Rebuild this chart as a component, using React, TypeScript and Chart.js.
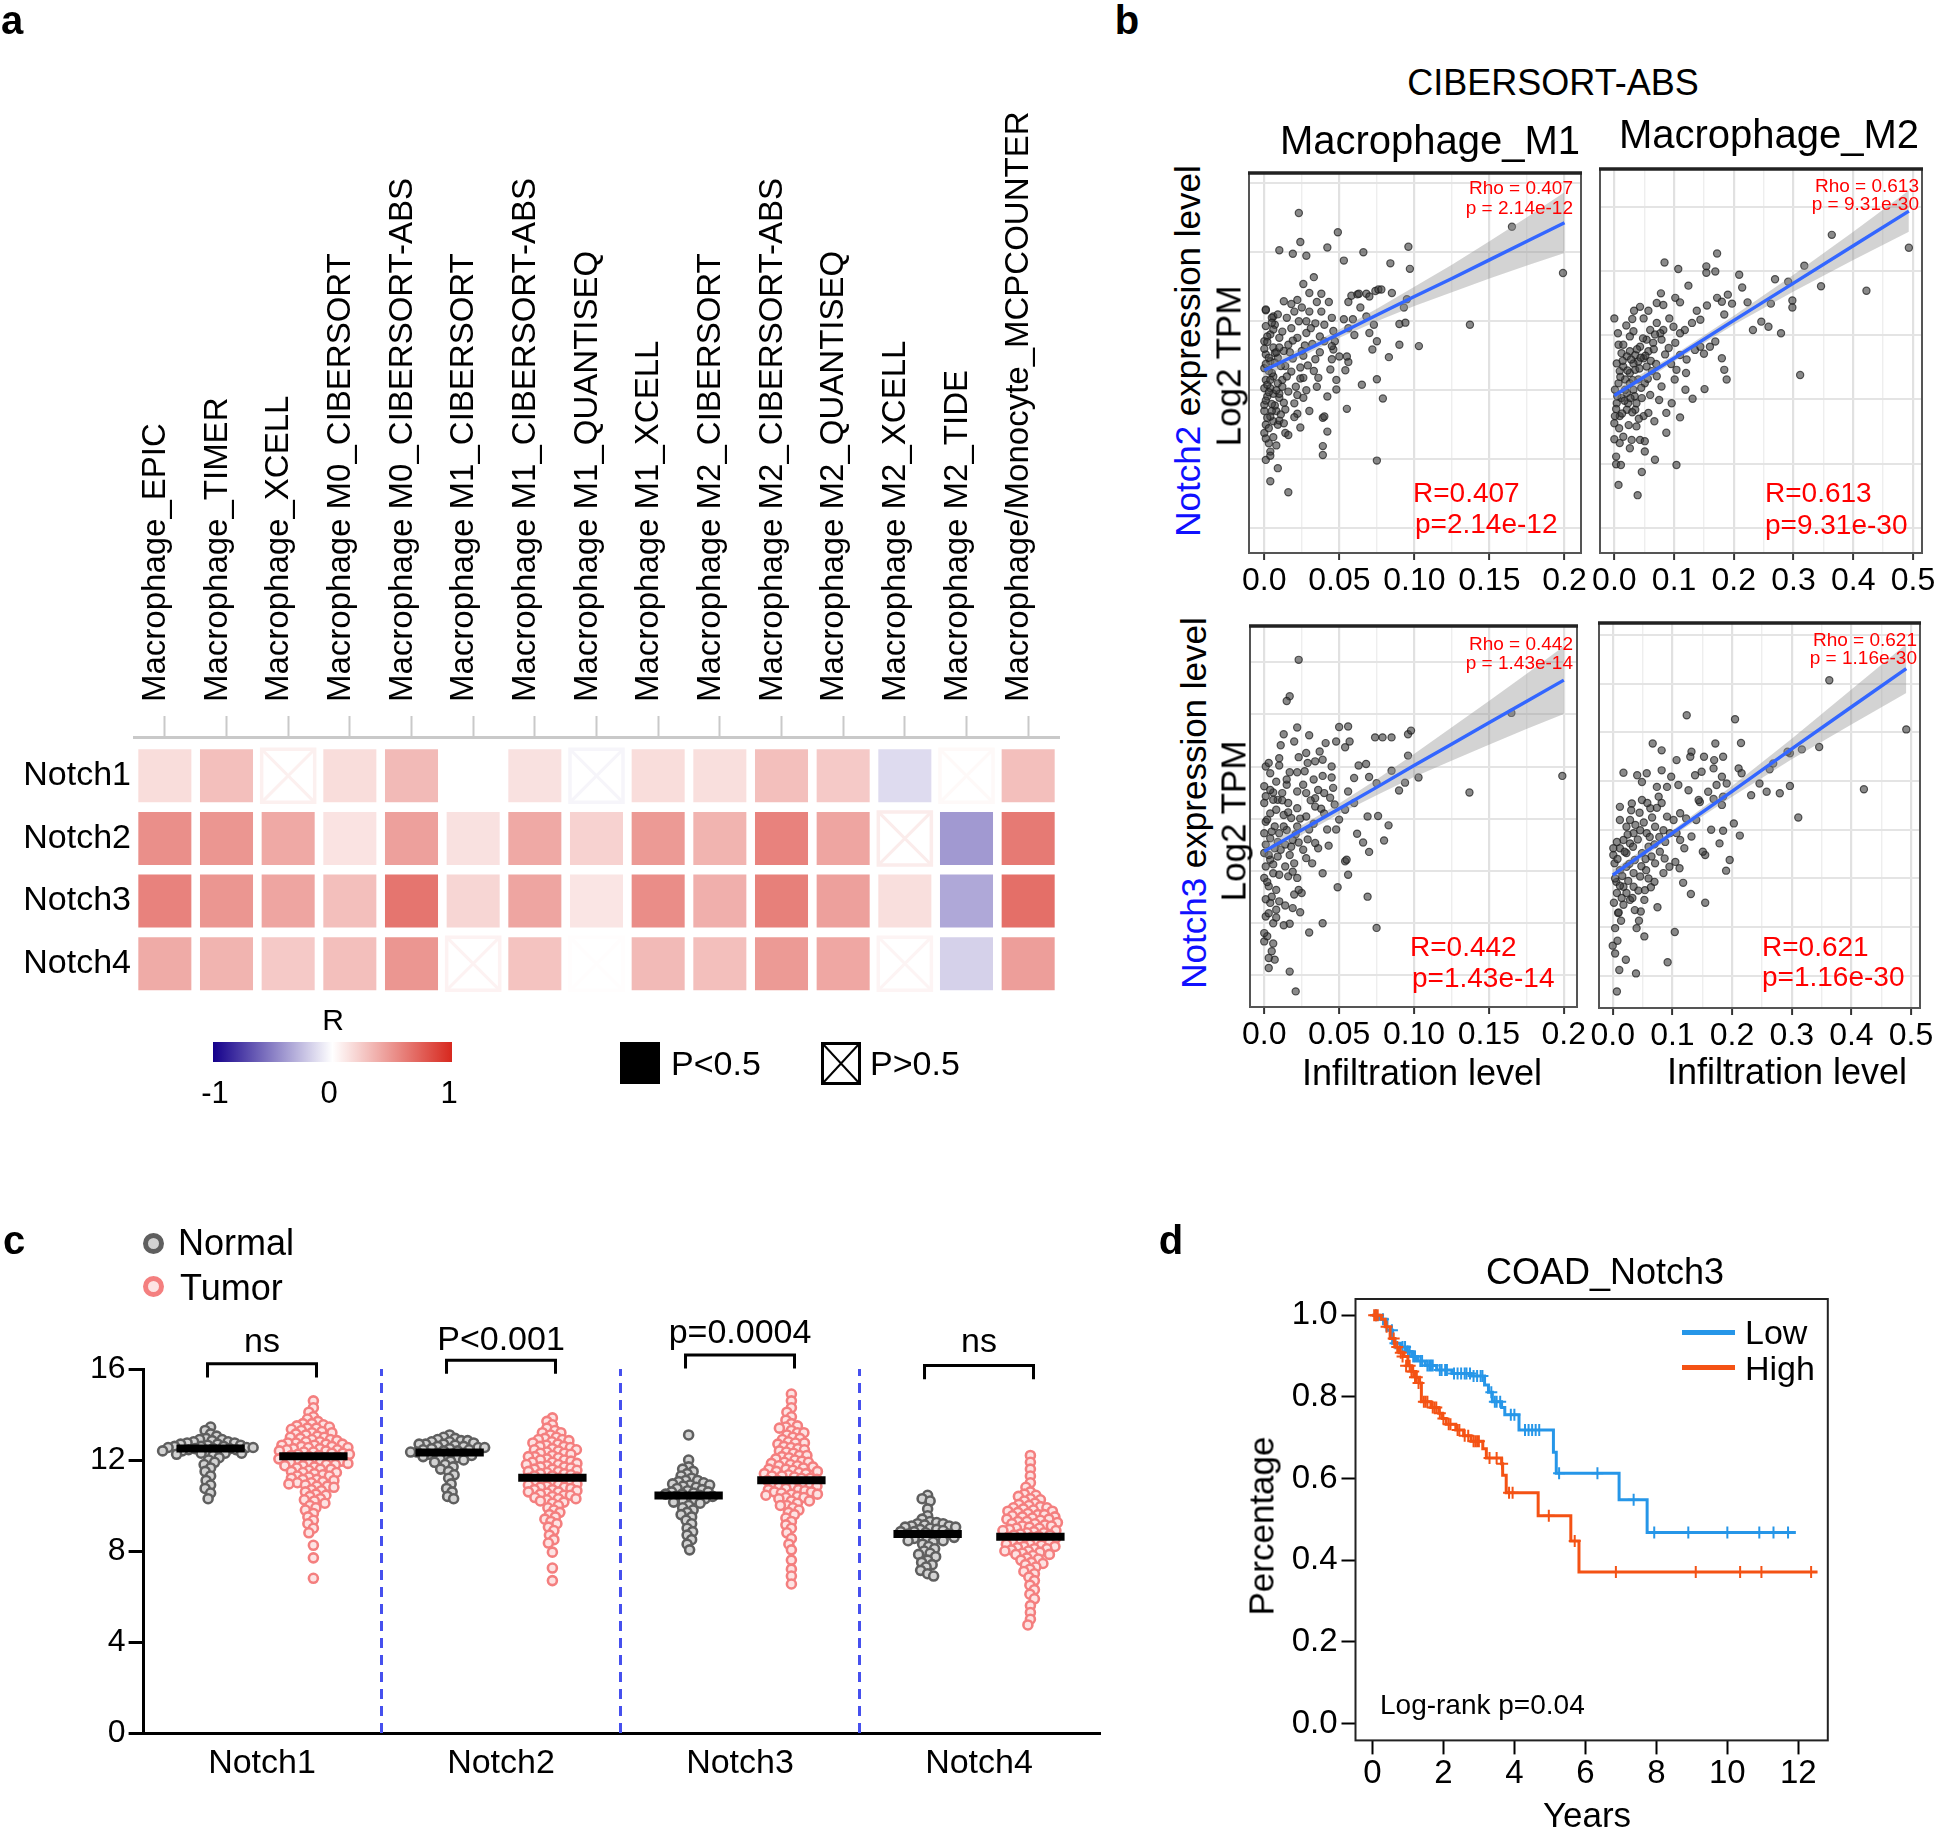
import React, { useEffect, useRef } from "react";
import { Chart, registerables } from "chart.js";

Chart.register(...registerables);

const FONT = '"Liberation Sans", Arial, Helvetica, sans-serif';

// ================= Panel a : correlation heatmap =================
const HEAT_COLS = [
  "Macrophage_EPIC", "Macrophage_TIMER", "Macrophage_XCELL", "Macrophage M0_CIBERSORT",
  "Macrophage M0_CIBERSORT-ABS", "Macrophage M1_CIBERSORT", "Macrophage M1_CIBERSORT-ABS",
  "Macrophage M1_QUANTISEQ", "Macrophage M1_XCELL", "Macrophage M2_CIBERSORT",
  "Macrophage M2_CIBERSORT-ABS", "Macrophage M2_QUANTISEQ", "Macrophage M2_XCELL",
  "Macrophage M2_TIDE", "Macrophage/Monocyte_MCPCOUNTER",
];
const HEAT_ROWS = ["Notch1", "Notch2", "Notch3", "Notch4"];
const HEAT_R = [
  [0.16, 0.30, 0.07, 0.16, 0.32, 0.00, 0.14, -0.04, 0.16, 0.15, 0.30, 0.25, -0.14, 0.03, 0.30],
  [0.52, 0.49, 0.40, 0.13, 0.44, 0.14, 0.40, 0.21, 0.47, 0.35, 0.58, 0.42, 0.09, -0.40, 0.62],
  [0.58, 0.49, 0.42, 0.30, 0.64, 0.19, 0.42, 0.12, 0.53, 0.37, 0.59, 0.44, 0.15, -0.34, 0.67],
  [0.39, 0.35, 0.25, 0.30, 0.49, 0.06, 0.28, 0.01, 0.32, 0.30, 0.47, 0.41, 0.05, -0.18, 0.45],
];
// 1 = P<0.5 (filled), 0 = P>0.5 (crossed box)
const HEAT_SIG = [
  [1, 1, 0, 1, 1, 1, 1, 0, 1, 1, 1, 1, 1, 0, 1],
  [1, 1, 1, 1, 1, 1, 1, 1, 1, 1, 1, 1, 0, 1, 1],
  [1, 1, 1, 1, 1, 1, 1, 1, 1, 1, 1, 1, 1, 1, 1],
  [1, 1, 1, 1, 1, 0, 1, 0, 1, 1, 1, 1, 0, 1, 1],
];
const COLOR_POS = [215, 40, 30];
const COLOR_NEG = [20, 0, 139];

// ================= Panel b : scatter plots =================
const M1_TICKS = [0, 0.025, 0.05, 0.075, 0.1, 0.125, 0.15, 0.175, 0.2];
const M1_LABELS = ["0.0", "", "0.05", "", "0.10", "", "0.15", "", "0.2"];
const M2_TICKS = [0, 0.05, 0.1, 0.15, 0.2, 0.25, 0.3, 0.35, 0.4, 0.45, 0.5];
const M2_LABELS = ["0.0", "", "0.1", "", "0.2", "", "0.3", "", "0.4", "", "0.5"];

const N2_M1_PTS = [
  [0.023,5.57],[0.049,5.29],[0.024,5.15],[0.010,5.03],[0.019,4.98],[0.028,4.95],[0.042,5.07],[0.053,4.88],[0.066,5.00],[0.096,5.08],
  [0.084,4.84],[0.097,4.76],[0.165,5.37],[0.199,4.70],[0.137,3.95],[0.103,3.64],[0.090,3.66],[0.083,3.48],[0.075,3.16],[0.065,3.08],
  [0.079,2.88],[0.075,1.98],[0.055,2.73],[0.042,2.91],[0.048,3.01],[0.048,3.15],[0.054,3.29],[0.056,3.41],[0.050,3.49],[0.046,3.59],
  [0.039,2.60],[0.040,2.62],[0.042,2.40],[0.039,2.19],[0.039,2.06],[0.024,2.46],[0.016,1.52],[0.004,1.68],[0.009,1.87],[0.001,1.99],
  [0.004,2.11],[0.000,2.38],[0.006,2.32],[0.014,2.38],[0.016,2.35],[0.003,2.23],[0.006,2.55],[0.008,2.70],[0.000,2.70],[0.000,2.79],
  [0.002,2.91],[0.000,3.03],[0.004,3.03],[0.001,3.15],[0.006,3.20],[0.000,3.32],[0.004,3.42],[0.001,3.52],[0.007,3.54],[0.000,3.71],
  [0.004,3.81],[0.001,3.93],[0.006,4.07],[0.001,4.16],[0.007,3.95],[0.010,3.76],[0.013,3.57],[0.009,3.47],[0.014,3.35],[0.012,3.15],
  [0.016,2.98],[0.010,2.89],[0.014,2.72],[0.020,2.81],[0.022,2.93],[0.024,3.17],[0.018,3.27],[0.019,3.46],[0.016,3.66],[0.022,3.76],
  [0.018,3.90],[0.015,4.05],[0.023,4.00],[0.020,4.14],[0.013,4.29],[0.022,4.31],[0.026,4.54],[0.030,4.41],[0.033,4.64],[0.038,4.40],
  [0.035,4.28],[0.043,4.28],[0.030,4.14],[0.038,4.14],[0.028,4.00],[0.034,3.97],[0.028,3.83],[0.037,3.78],[0.032,3.67],[0.025,3.57],
  [0.029,3.36],[0.033,3.28],[0.026,3.50],[0.037,3.55],[0.040,3.71],[0.045,4.05],[0.046,3.86],[0.026,2.89],[0.030,2.70],[0.035,3.05],
  [0.022,2.66],[0.020,2.61],[0.056,4.28],[0.058,4.37],[0.062,4.39],[0.063,4.40],[0.068,4.40],[0.070,4.36],[0.074,4.44],[0.076,4.46],
  [0.078,4.46],[0.085,4.41],[0.095,4.32],[0.093,4.20],[0.090,3.96],[0.094,3.98],[0.068,4.07],[0.059,4.03],[0.056,3.90],[0.073,3.95],
  [0.070,3.83],[0.075,3.71],[0.072,3.59],[0.053,4.03],[0.047,3.71],[0.045,3.45],[0.045,3.64],[0.055,3.49],[0.026,3.18],[0.028,3.00],
  [0.009,2.50],[0.010,2.56],[0.001,2.50],[0.005,2.70],[0.006,2.95],[0.001,4.17],[0.005,4.05],[0.001,2.85],[0.003,2.97],[0.002,3.08],
  [0.005,3.25],[0.001,3.38],[0.003,3.47],[0.006,3.62],[0.002,3.78],[0.004,2.62],[0.007,2.78],[0.009,3.10],[0.011,3.35],[0.008,3.55],
  [0.012,3.85],[0.003,2.45],[0.006,3.88],[0.010,2.95],[0.013,2.82],[0.000,3.60],[0.004,3.15],
  [0.002,2.60],[0.005,2.80],[0.008,3.00],[0.003,3.28],[0.007,3.40],[0.010,3.62],[0.002,3.70],[0.005,3.98],[0.009,4.10],[0.012,3.05],
  [0.015,3.20],[0.011,2.65],[0.017,3.55],[0.019,3.72],[0.021,3.05],[0.024,3.33],[0.027,3.65],[0.031,3.90],[0.034,3.45],[0.036,3.18],
  [0.001,2.30],[0.004,2.05],[0.008,2.20],[0.013,2.52],[0.018,4.25],[0.025,4.20],[0.040,3.95],[0.044,3.30],[0.060,3.80],[0.064,4.20],
];
const N2_M1_FIT_X = [0, 0.025, 0.05, 0.075, 0.1, 0.125, 0.15, 0.175, 0.2];
const N2_M1_FIT = [3.29, 3.55, 3.82, 4.09, 4.36, 4.62, 4.89, 5.16, 5.43];
const N2_M1_LO = [3.19, 3.49, 3.76, 4.00, 4.22, 4.42, 4.62, 4.81, 4.99];
const N2_M1_HI = [3.38, 3.61, 3.88, 4.18, 4.50, 4.82, 5.16, 5.51, 5.87];

const N2_M2_PTS = [
  [0.493,5.36],[0.364,5.56],[0.318,5.08],[0.346,4.76],[0.422,4.69],[0.311,3.38],[0.279,4.03],[0.298,4.54],[0.298,4.43],[0.291,4.83],
  [0.269,4.87],[0.262,4.49],[0.246,4.21],[0.258,4.13],[0.232,4.08],[0.223,4.51],[0.214,4.74],[0.209,4.94],[0.172,5.27],[0.169,4.99],
  [0.154,5.07],[0.154,4.97],[0.107,5.03],[0.084,5.13],[0.124,4.77],[0.078,4.65],[0.102,4.58],[0.110,4.51],[0.071,4.50],[0.082,4.47],
  [0.043,4.44],[0.033,4.38],[0.057,4.38],[0.000,4.26],[0.172,4.58],[0.180,4.52],[0.190,4.63],[0.197,4.49],[0.184,4.32],[0.155,4.46],
  [0.138,4.38],[0.144,4.24],[0.130,4.19],[0.118,4.08],[0.110,4.03],[0.092,4.26],[0.099,4.13],[0.082,4.08],[0.077,4.03],[0.071,4.19],
  [0.060,4.08],[0.049,4.26],[0.032,4.06],[0.026,3.98],[0.006,4.03],[0.007,3.85],[0.015,3.85],[0.026,3.75],[0.035,3.69],[0.040,3.59],
  [0.032,3.56],[0.049,3.64],[0.057,3.75],[0.065,3.88],[0.079,3.93],[0.091,3.80],[0.102,3.88],[0.110,3.69],[0.121,3.62],[0.135,3.77],
  [0.144,3.82],[0.150,3.71],[0.160,3.82],[0.169,3.90],[0.180,3.64],[0.184,3.46],[0.188,3.31],[0.151,3.16],[0.131,3.01],[0.119,3.15],
  [0.120,3.41],[0.104,3.46],[0.101,3.31],[0.096,2.94],[0.087,2.79],[0.110,2.72],[0.087,2.48],[0.104,1.98],[0.068,2.06],[0.067,2.66],
  [0.075,2.99],[0.060,3.07],[0.051,3.25],[0.071,3.36],[0.079,3.20],[0.046,3.02],[0.035,2.84],[0.049,2.74],[0.057,2.79],[0.037,2.58],
  [0.043,2.37],[0.051,2.35],[0.051,2.19],[0.026,2.24],[0.029,2.37],[0.009,2.32],[0.000,2.38],[0.015,2.42],[0.003,2.11],[0.003,1.99],
  [0.011,1.98],[0.046,1.87],[0.007,1.67],[0.039,1.51],[0.009,2.74],[0.021,2.84],[0.001,2.74],[0.004,2.94],[0.012,3.02],[0.021,3.10],
  [0.001,3.15],[0.007,3.25],[0.018,3.31],[0.026,3.25],[0.026,3.41],[0.009,3.44],[0.015,3.51],[0.004,3.56],[0.035,3.46],[0.040,3.31],
  [0.032,3.15],[0.023,2.94],[0.037,2.94],[0.043,3.82],[0.054,3.93],[0.068,4.01],[0.012,3.72],[0.021,3.67],[0.054,3.51],[0.063,3.44],
  [0.000,2.63],
  [0.005,3.05],[0.010,3.35],[0.014,3.60],[0.018,3.15],[0.022,3.45],[0.028,3.62],[0.031,3.30],[0.034,3.05],[0.038,3.78],[0.042,3.48],
  [0.045,3.18],[0.048,3.95],[0.052,3.68],[0.056,3.32],[0.061,3.60],[0.066,3.78],[0.070,3.55],[0.003,2.85],[0.008,2.55],[0.013,2.78],
  [0.017,2.98],[0.024,2.60],[0.027,3.02],[0.030,2.80],[0.041,2.70],[0.044,3.65],[0.020,4.15],[0.030,4.25],[0.085,3.70],[0.095,3.55],
];
const N2_M2_FIT_X = [0, 0.1, 0.2, 0.3, 0.4, 0.493];
const N2_M2_FIT = [3.06, 3.64, 4.23, 4.81, 5.39, 5.93];
const N2_M2_LO = [2.97, 3.59, 4.16, 4.68, 5.17, 5.61];
const N2_M2_HI = [3.15, 3.69, 4.30, 4.94, 5.61, 6.25];

const N3_M1_PTS = [
  [0.023,7.05],[0.017,6.35],[0.015,6.26],[0.022,5.75],[0.013,5.62],[0.030,5.60],[0.011,5.41],[0.020,5.48],[0.050,5.76],[0.056,5.77],
  [0.048,5.48],[0.041,5.45],[0.054,5.37],[0.057,5.48],[0.074,5.56],[0.079,5.56],[0.085,5.56],[0.096,5.62],[0.098,5.69],[0.165,6.03],
  [0.199,4.82],[0.137,4.50],[0.103,4.79],[0.096,5.21],[0.085,4.92],[0.094,4.69],[0.090,4.54],[0.075,4.68],[0.070,4.80],[0.068,5.05],
  [0.063,5.02],[0.060,4.78],[0.056,4.52],[0.045,5.00],[0.039,5.13],[0.034,5.10],[0.028,5.26],[0.037,5.29],[0.029,5.07],[0.023,5.18],
  [0.022,4.89],[0.010,5.16],[0.010,5.02],[0.017,4.89],[0.027,4.91],[0.033,4.75],[0.039,4.82],[0.045,4.79],[0.046,4.59],[0.040,4.49],
  [0.034,4.39],[0.028,4.49],[0.022,4.52],[0.015,4.65],[0.008,4.71],[0.004,4.87],[0.001,5.00],[0.003,5.07],[0.000,4.62],[0.006,4.50],
  [0.009,4.36],[0.016,4.30],[0.022,4.20],[0.028,4.04],[0.034,4.23],[0.038,4.19],[0.042,3.79],[0.048,3.79],[0.054,4.17],[0.050,3.98],
  [0.062,3.71],[0.066,3.54],[0.069,4.04],[0.076,4.05],[0.080,3.58],[0.083,3.87],[0.070,3.36],[0.075,1.90],[0.069,2.50],[0.054,3.18],
  [0.055,3.21],[0.056,2.92],[0.049,2.68],[0.043,3.48],[0.039,2.95],[0.036,3.43],[0.034,3.53],[0.032,3.14],[0.030,1.81],[0.039,1.99],
  [0.025,2.57],[0.020,2.54],[0.019,2.28],[0.017,1.98],[0.017,1.06],[0.021,0.68],[0.007,1.29],[0.005,1.45],[0.003,1.32],[0.003,1.13],
  [0.000,1.64],[0.002,1.74],[0.000,1.80],[0.006,1.99],[0.001,2.12],[0.003,2.18],[0.008,2.25],[0.004,2.38],[0.010,2.41],[0.014,2.33],
  [0.016,2.89],[0.014,3.08],[0.022,2.86],[0.023,2.63],[0.008,2.63],[0.003,2.70],[0.000,2.86],[0.006,2.95],[0.001,3.08],[0.004,3.21],
  [0.009,3.27],[0.000,3.34],[0.007,3.43],[0.001,3.50],[0.004,3.62],[0.000,3.72],[0.010,3.72],[0.014,3.50],[0.018,3.46],[0.019,3.59],
  [0.023,3.54],[0.015,3.78],[0.007,3.85],[0.001,3.94],[0.004,4.10],[0.000,4.30],[0.008,4.17],[0.013,4.07],[0.018,4.01],[0.022,3.85],
  [0.001,4.43],[0.006,4.36],[0.012,4.49],[0.015,4.75],[0.026,4.65],[0.028,3.24],[0.020,3.14],[0.030,3.79],[0.047,4.27],
  [0.002,3.98],[0.005,3.75],[0.009,3.55],[0.003,3.30],[0.006,3.12],[0.010,2.92],[0.002,2.78],[0.005,2.50],[0.011,3.40],[0.013,3.85],
  [0.016,4.12],[0.012,4.35],[0.017,3.30],[0.019,2.98],[0.021,3.70],[0.024,4.00],[0.026,3.40],[0.029,3.60],[0.031,4.35],[0.033,3.90],
  [0.036,4.55],[0.040,4.10],[0.004,4.55],[0.008,2.10],[0.001,2.45],[0.013,1.95],[0.006,1.60],[0.024,2.20],[0.044,4.40],[0.060,4.30],
];
const N3_M1_FIT_X = [0, 0.025, 0.05, 0.075, 0.1, 0.125, 0.15, 0.175, 0.2];
const N3_M1_FIT = [3.37, 3.78, 4.19, 4.60, 5.02, 5.43, 5.84, 6.25, 6.66];
const N3_M1_LO = [3.24, 3.69, 4.09, 4.45, 4.80, 5.11, 5.42, 5.72, 6.01];
const N3_M1_HI = [3.50, 3.87, 4.29, 4.75, 5.24, 5.75, 6.26, 6.78, 7.31];

const N3_M2_PTS = [
  [0.363,7.07],[0.492,6.06],[0.421,4.83],[0.311,4.25],[0.346,5.70],[0.317,5.65],[0.297,5.57],[0.293,5.60],[0.280,4.75],[0.297,4.90],
  [0.258,4.78],[0.246,4.95],[0.232,4.71],[0.263,5.24],[0.269,5.36],[0.215,5.78],[0.205,6.27],[0.124,6.35],[0.211,5.26],[0.216,5.16],
  [0.203,4.13],[0.213,3.88],[0.196,3.38],[0.190,3.16],[0.185,3.98],[0.165,4.00],[0.179,3.72],[0.155,2.50],[0.155,3.48],[0.151,3.55],
  [0.131,2.68],[0.118,2.91],[0.132,3.86],[0.120,3.62],[0.104,1.90],[0.092,1.28],[0.075,2.41],[0.053,1.81],[0.039,1.05],[0.022,1.33],
  [0.011,1.12],[0.007,0.68],[0.004,1.46],[0.000,1.62],[0.008,1.72],[0.004,1.98],[0.014,2.13],[0.009,2.29],[0.040,1.98],[0.044,2.13],
  [0.047,2.32],[0.037,2.35],[0.029,2.56],[0.018,2.46],[0.007,2.70],[0.023,2.70],[0.018,2.83],[0.006,2.93],[0.035,2.83],[0.053,2.56],
  [0.054,2.76],[0.064,2.82],[0.070,2.93],[0.085,3.11],[0.095,3.24],[0.087,3.41],[0.105,3.34],[0.112,3.21],[0.079,3.55],[0.071,3.31],
  [0.056,3.17],[0.046,3.04],[0.035,3.11],[0.023,3.24],[0.012,3.17],[0.003,3.31],[0.001,3.48],[0.012,3.62],[0.023,3.52],[0.037,3.38],
  [0.049,3.52],[0.060,3.65],[0.065,3.45],[0.029,3.72],[0.018,3.79],[0.007,3.75],[0.035,3.93],[0.046,3.99],[0.057,3.93],[0.071,4.06],
  [0.085,3.99],[0.096,3.93],[0.107,3.93],[0.113,3.79],[0.102,4.20],[0.091,4.27],[0.113,4.34],[0.123,4.23],[0.140,4.20],[0.146,4.57],
  [0.160,4.78],[0.169,4.63],[0.183,4.51],[0.185,4.68],[0.174,4.92],[0.191,4.95],[0.183,5.09],[0.169,5.26],[0.170,5.43],[0.172,5.77],
  [0.185,5.50],[0.153,5.50],[0.132,5.60],[0.130,5.50],[0.138,5.12],[0.149,5.19],[0.127,4.81],[0.107,5.43],[0.098,5.09],[0.082,5.63],
  [0.067,5.77],[0.082,5.22],[0.057,5.16],[0.049,4.98],[0.018,5.17],[0.041,5.12],[0.032,4.54],[0.029,4.20],[0.049,4.61],[0.063,4.44],
  [0.077,4.68],[0.091,4.88],[0.012,4.47],[0.012,4.20],[0.023,4.06],[0.001,3.62],[0.074,4.88],[0.110,4.92],[0.144,4.61],
  [0.004,3.00],[0.008,3.40],[0.012,2.85],[0.016,3.05],[0.020,3.55],[0.025,3.90],[0.028,3.30],[0.031,4.40],[0.034,3.65],[0.038,4.10],
  [0.042,3.80],[0.045,4.35],[0.048,3.25],[0.052,4.15],[0.055,3.40],[0.058,4.55],[0.062,3.85],[0.066,4.25],[0.070,3.70],[0.074,4.45],
  [0.078,3.85],[0.082,4.55],[0.088,3.75],[0.002,2.50],[0.010,2.30],[0.015,2.60],[0.026,2.95],[0.033,2.60],[0.043,2.75],[0.060,3.00],
];
const N3_M2_FIT_X = [0, 0.1, 0.2, 0.3, 0.4, 0.492];
const N3_M2_FIT = [3.07, 3.93, 4.79, 5.66, 6.52, 7.31];
const N3_M2_LO = [2.96, 3.87, 4.68, 5.45, 6.16, 6.81];
const N3_M2_HI = [3.18, 3.99, 4.90, 5.87, 6.88, 7.81];

// ================= Panel c : expression dot plot =================
const GENES = ["Notch1", "Notch2", "Notch3", "Notch4"];
const NOTCH1_NORMAL = [13.45,13.3,13.15,13.05,12.95,12.9,12.85,12.8,12.8,12.75,12.7,12.7,12.65,12.6,12.6,12.55,12.55,12.5,12.5,12.45,12.45,12.4,12.4,12.35,12.3,12.3,12.25,12.2,12.1,12.0,11.9,11.8,11.65,11.5,11.3,11.1,10.9,10.75,10.55,10.3,12.9,12.75,12.6,12.5,12.4,12.3,12.55,12.65];
const NOTCH1_TUMOR = [14.6,14.3,14.1,13.9,13.8,13.7,13.6,13.55,13.5,13.45,13.4,13.35,13.3,13.25,13.2,13.15,13.1,13.05,13.0,12.95,12.9,12.85,12.8,12.8,12.75,12.7,12.7,12.65,12.6,12.6,12.55,12.5,12.5,12.45,12.4,12.4,12.35,12.3,12.3,12.25,12.2,12.2,12.15,12.1,12.1,12.05,12.0,12.0,11.95,11.9,11.9,11.85,11.8,11.8,11.75,11.7,11.65,11.6,11.55,11.5,11.45,11.4,11.35,11.3,11.25,11.2,11.15,11.1,11.05,11.0,10.95,10.9,10.85,10.8,10.7,10.6,10.5,10.4,10.3,10.2,10.1,10.0,9.9,9.8,9.65,9.5,9.35,9.2,9.0,8.8,8.25,7.7,6.8,13.6,13.4,13.2,13.0,12.9,12.75,12.65,12.55,12.45,12.35,12.25,12.15,12.05,11.95,11.85,11.75,11.6,11.45,11.3,11.15,11.0,10.85,10.65,10.45,10.25];
const NOTCH2_NORMAL = [13.1,13.0,12.95,12.9,12.85,12.8,12.8,12.75,12.7,12.7,12.65,12.6,12.55,12.5,12.5,12.45,12.4,12.4,12.35,12.3,12.3,12.25,12.2,12.15,12.1,12.05,12.0,11.95,11.9,11.8,11.7,11.6,11.5,11.35,11.2,10.95,10.75,10.6,10.4,10.3,12.85,12.7,12.55,12.45,12.35,12.25,12.6,12.15];
const NOTCH2_TUMOR = [13.85,13.7,13.55,13.4,13.3,13.2,13.1,13.0,12.95,12.9,12.85,12.8,12.7,12.65,12.6,12.55,12.5,12.45,12.4,12.35,12.3,12.25,12.2,12.15,12.1,12.05,12.0,11.95,11.9,11.85,11.8,11.75,11.7,11.65,11.6,11.55,11.5,11.45,11.4,11.35,11.3,11.25,11.2,11.15,11.1,11.05,11.0,10.95,10.9,10.85,10.8,10.75,10.7,10.65,10.6,10.55,10.5,10.45,10.4,10.35,10.3,10.25,10.2,10.1,10.0,9.9,9.8,9.7,9.6,9.5,9.4,9.3,9.2,9.05,8.9,8.7,8.5,8.35,7.95,7.25,6.7,13.2,12.9,12.75,12.6,12.45,12.3,12.15,12.0,11.9,11.8,11.7,11.6,11.5,11.4,11.3,11.2,11.1,11.0,10.9,10.8,10.7,10.6,10.45,10.3,10.15];
const NOTCH3_NORMAL = [13.1,12.0,11.7,11.6,11.5,11.4,11.3,11.2,11.1,11.05,11.0,10.95,10.9,10.85,10.8,10.7,10.65,10.6,10.55,10.5,10.45,10.4,10.35,10.3,10.2,10.1,10.0,9.9,9.8,9.7,9.6,9.5,9.35,9.2,9.0,8.85,8.7,8.5,8.3,8.05,10.9,10.75,10.6,10.5,10.4,10.25,10.15,11.1];
const NOTCH3_TUMOR = [14.9,14.6,14.3,14.1,13.9,13.75,13.6,13.5,13.4,13.3,13.2,13.1,13.0,12.9,12.8,12.75,12.7,12.6,12.5,12.45,12.4,12.3,12.2,12.15,12.1,12.0,11.95,11.9,11.85,11.8,11.75,11.7,11.65,11.6,11.55,11.5,11.45,11.4,11.35,11.3,11.25,11.2,11.15,11.1,11.05,11.0,10.95,10.9,10.85,10.8,10.75,10.7,10.65,10.6,10.55,10.5,10.45,10.4,10.35,10.3,10.2,10.1,10.0,9.9,9.8,9.7,9.6,9.45,9.3,9.15,9.0,8.8,8.55,8.3,8.05,7.6,7.2,6.9,6.55,13.45,13.2,12.95,12.75,12.55,12.35,12.2,12.05,11.9,11.75,11.6,11.5,11.4,11.3,11.2,11.1,11.0,10.9,10.8,10.7,10.6,10.5,10.35,10.2,10.0];
const NOTCH4_NORMAL = [10.45,10.3,10.2,9.85,9.55,9.4,9.3,9.25,9.2,9.15,9.1,9.05,9.0,8.95,8.9,8.85,8.8,8.75,8.7,8.65,8.6,8.55,8.5,8.45,8.4,8.3,8.2,8.1,8.0,7.9,7.85,7.75,7.6,7.5,7.4,7.3,7.15,7.0,6.9,9.2,9.05,8.95,8.85,8.75,8.6,8.45,9.1];
const NOTCH4_TUMOR = [12.2,11.9,11.6,11.3,11.0,10.8,10.6,10.5,10.4,10.3,10.2,10.1,10.0,9.95,9.9,9.85,9.8,9.75,9.7,9.65,9.6,9.55,9.5,9.45,9.4,9.35,9.3,9.25,9.2,9.15,9.1,9.05,9.0,8.95,8.9,8.85,8.8,8.75,8.7,8.65,8.6,8.55,8.5,8.45,8.4,8.35,8.3,8.25,8.2,8.15,8.1,8.05,8.0,7.95,7.9,7.85,7.8,7.7,7.6,7.5,7.4,7.3,7.2,7.1,7.0,6.85,6.7,6.5,6.3,6.1,5.9,5.6,5.3,5.0,4.75,10.45,10.25,10.05,9.9,9.75,9.6,9.5,9.4,9.3,9.2,9.1,9.0,8.9,8.8,8.7,8.6,8.5,8.4,8.3,8.2,8.1,8.0,7.85,7.65,7.45];
const MEAN_NORMAL = [12.51, 12.33, 10.44, 8.75];
const MEAN_TUMOR = [12.17, 11.22, 11.11, 8.63];
const P_LABELS = ["ns", "P<0.001", "p=0.0004", "ns"];
const BRACKET_Y = [16.23, 16.39, 16.62, 16.15];
const P_LABEL_Y = [17.15, 17.25, 17.56, 17.15];
const DIVIDERS = [0.5, 1.5, 2.5];
const DOT_Y_TICKS = [0, 4, 8, 12, 16];

// ================= Panel d : Kaplan-Meier =================
const LOW_T = [0, 0.19, 0.41, 0.57, 0.79, 0.97, 1.11, 1.27, 1.49, 1.81, 2.24, 2.78, 3.16, 3.27, 3.38, 3.64, 3.73, 4.13, 5.10, 5.18, 6.95, 7.74, 11.93];
const LOW_S = [1.0, 0.99, 0.963, 0.931, 0.922, 0.911, 0.899, 0.888, 0.877, 0.866, 0.857, 0.851, 0.829, 0.811, 0.788, 0.774, 0.756, 0.719, 0.664, 0.613, 0.548, 0.468, 0.468];
const LOW_CENS_T = [0.1, 0.3, 0.55, 0.65, 0.85, 0.92, 1.0, 1.05, 1.15, 1.2, 1.35, 1.4, 1.55, 1.6, 1.65, 1.7, 1.9, 1.95, 2.05, 2.1, 2.3, 2.4, 2.5, 2.6, 2.65, 2.75, 2.85, 2.95, 3.05, 3.1, 3.35, 3.45, 3.5, 3.6, 3.9, 4.0, 4.3, 4.4, 4.5, 4.6, 4.7, 5.26, 6.34, 7.36, 7.94, 8.9, 10.0, 10.9, 11.3, 11.71];
const LOW_CENS_S = [1.0, 0.99, 0.963, 0.931, 0.922, 0.922, 0.911, 0.911, 0.899, 0.899, 0.888, 0.888, 0.877, 0.877, 0.877, 0.877, 0.866, 0.866, 0.866, 0.866, 0.857, 0.857, 0.857, 0.857, 0.857, 0.857, 0.851, 0.851, 0.851, 0.851, 0.811, 0.788, 0.788, 0.788, 0.756, 0.756, 0.719, 0.719, 0.719, 0.719, 0.719, 0.613, 0.613, 0.548, 0.468, 0.468, 0.468, 0.468, 0.468, 0.468];
const HIGH_T = [0, 0.25, 0.36, 0.50, 0.63, 0.75, 0.89, 1.0, 1.11, 1.22, 1.33, 1.38, 1.65, 1.87, 1.97, 2.08, 2.35, 2.57, 2.78, 3.11, 3.21, 3.64, 3.67, 3.77, 4.67, 5.59, 5.82, 12.54];
const HIGH_S = [1.0, 0.99, 0.972, 0.943, 0.922, 0.908, 0.899, 0.876, 0.862, 0.848, 0.834, 0.788, 0.774, 0.760, 0.747, 0.733, 0.719, 0.705, 0.691, 0.673, 0.650, 0.636, 0.608, 0.565, 0.509, 0.447, 0.371, 0.371];
const HIGH_CENS_T = [0.05, 0.1, 0.15, 0.4, 0.6, 0.7, 0.8, 0.85, 0.95, 1.05, 1.1, 1.15, 1.2, 1.25, 1.3, 1.45, 1.5, 1.55, 1.7, 1.75, 1.8, 1.9, 2.0, 2.15, 2.2, 2.4, 2.45, 2.6, 2.7, 2.85, 2.9, 2.95, 3.0, 3.3, 3.5, 3.655, 3.85, 3.95, 4.97, 5.7, 6.86, 9.11, 10.36, 10.96, 12.36];
const HIGH_CENS_S = [1.0, 1.0, 1.0, 0.972, 0.943, 0.922, 0.908, 0.899, 0.876, 0.876, 0.862, 0.862, 0.848, 0.848, 0.834, 0.788, 0.788, 0.788, 0.774, 0.774, 0.774, 0.760, 0.747, 0.733, 0.733, 0.719, 0.719, 0.705, 0.705, 0.691, 0.691, 0.691, 0.691, 0.650, 0.650, 0.636, 0.565, 0.565, 0.509, 0.447, 0.371, 0.371, 0.371, 0.371, 0.371];
const KM_X_TICKS = [0, 2, 4, 6, 8, 10, 12];
const KM_Y_TICKS = [0, 0.2, 0.4, 0.6, 0.8, 1.0];

const KM_BLUE = "rgb(38,150,232)";
const KM_ORANGE = "rgb(244,82,20)";

// ================= helpers =================
function rColor(r: number) {
  const t = Math.min(1, Math.abs(r));
  const end = r >= 0 ? COLOR_POS : COLOR_NEG;
  const c = end.map((e) => Math.round(255 + (e - 255) * t));
  return `rgb(${c[0]},${c[1]},${c[2]})`;
}

function baseOptions(padding: any) {
  return {
    animation: false,
    responsive: false,
    maintainAspectRatio: false,
    devicePixelRatio: 1,
    events: [],
    layout: { padding },
    plugins: { legend: { display: false }, tooltip: { enabled: false } },
  };
}

function framePlugin(color: string, width: number, topColor?: string, topWidth?: number) {
  return {
    id: "frame",
    afterDatasetsDraw(chart: any) {
      const { ctx, chartArea: a } = chart;
      ctx.save();
      ctx.strokeStyle = color;
      ctx.lineWidth = width;
      ctx.strokeRect(a.left, a.top, a.right - a.left, a.bottom - a.top);
      if (topColor) {
        ctx.strokeStyle = topColor;
        ctx.lineWidth = topWidth;
        ctx.beginPath();
        ctx.moveTo(a.left - 1, a.top);
        ctx.lineTo(a.right + 1, a.top);
        ctx.stroke();
      }
      ctx.restore();
    },
  };
}

function ChartCanvas({ left, top, width, height, build }: any) {
  const ref = useRef<HTMLCanvasElement | null>(null);
  useEffect(() => {
    if (!ref.current) return;
    const chart = new Chart(ref.current, build());
    return () => chart.destroy();
  }, []);
  return (
    <canvas
      ref={ref}
      width={width}
      height={height}
      style={{ position: "absolute", left, top, width, height }}
    />
  );
}

// ---------- heatmap ----------
function buildHeatmap() {
  const sig: any[] = [];
  const ns: any[] = [];
  HEAT_R.forEach((row, i) =>
    row.forEach((r, j) => {
      const p = { x: j, y: i, c: rColor(r) };
      (HEAT_SIG[i][j] ? sig : ns).push(p);
    })
  );
  const colLabels = {
    id: "colLabels",
    afterDraw(chart: any) {
      const { ctx, chartArea, scales } = chart;
      ctx.save();
      ctx.font = `33px ${FONT}`;
      ctx.fillStyle = "#000";
      ctx.textAlign = "left";
      ctx.textBaseline = "middle";
      HEAT_COLS.forEach((lab, i) => {
        const x = scales.x.getPixelForValue(i) - 9;
        ctx.save();
        ctx.translate(x, chartArea.top - 35);
        ctx.rotate(-Math.PI / 2);
        ctx.fillText(lab, 0, 0);
        ctx.restore();
      });
      ctx.restore();
    },
  };
  return {
    type: "scatter",
    data: {
      datasets: [
        {
          data: ns.map((p) => ({ x: p.x, y: p.y })),
          pointStyle: "crossRot",
          pointRadius: 37.5,
          pointBorderColor: ns.map((p) => p.c),
          pointBorderWidth: 3,
          pointBackgroundColor: "rgba(0,0,0,0)",
        },
        {
          data: ns.map((p) => ({ x: p.x, y: p.y })),
          pointStyle: "rect",
          pointRadius: 37.5,
          pointBorderColor: ns.map((p) => p.c),
          pointBorderWidth: 3.5,
          pointBackgroundColor: "#ffffff",
        },
        {
          data: sig.map((p) => ({ x: p.x, y: p.y })),
          pointStyle: "rect",
          pointRadius: 37.5,
          pointBorderWidth: 0,
          pointBackgroundColor: sig.map((p) => p.c),
        },
      ],
    },
    options: {
      ...baseOptions({ left: 0, top: 0, right: 36, bottom: 125 }),
      scales: {
        x: {
          type: "linear",
          position: "top",
          min: -0.5,
          max: 14.5,
          afterBuildTicks: (s: any) => {
            s.ticks = HEAT_COLS.map((_, i) => ({ value: i }));
          },
          afterFit: (s: any) => {
            s.height = 737;
          },
          ticks: { display: false },
          grid: {
            drawOnChartArea: false,
            drawTicks: true,
            tickLength: 21,
            tickColor: "#c9c9c9",
            tickWidth: 2,
            color: "#c9c9c9",
          },
          border: { display: true, color: "#c9c9c9", width: 3 },
        },
        y: {
          type: "linear",
          reverse: true,
          min: -0.62,
          max: 3.5,
          afterBuildTicks: (s: any) => {
            s.ticks = HEAT_ROWS.map((_, i) => ({ value: i }));
          },
          afterFit: (s: any) => {
            s.width = 134;
          },
          ticks: {
            callback: (v: any) => HEAT_ROWS[Math.round(v)],
            padding: 3,
            font: { family: FONT, size: 34 },
            color: "#000",
          },
          grid: { display: false, drawTicks: false },
          border: { display: false },
        },
      },
    },
    plugins: [colLabels],
  };
}

// ---------- scatter (panel b) ----------
function buildScatter(cfg: any) {
  const xl = cfg.xl;
  return {
    type: "scatter",
    data: {
      datasets: [
        {
          type: "line",
          data: cfg.fx.map((x: number, i: number) => ({ x, y: cfg.fit[i] })),
          borderColor: "#3366ff",
          borderWidth: 3.4,
          pointRadius: 0,
          fill: false,
        },
        {
          type: "line",
          data: cfg.fx.map((x: number, i: number) => ({ x, y: cfg.hi[i] })),
          borderColor: "rgba(0,0,0,0)",
          borderWidth: 0,
          pointRadius: 0,
          fill: "+1",
          backgroundColor: "rgba(150,150,150,0.42)",
        },
        {
          type: "line",
          data: cfg.fx.map((x: number, i: number) => ({ x, y: cfg.lo[i] })),
          borderColor: "rgba(0,0,0,0)",
          borderWidth: 0,
          pointRadius: 0,
          fill: false,
        },
        {
          type: "scatter",
          data: cfg.pts.map((p: number[]) => ({ x: p[0], y: p[1] })),
          pointRadius: 3.6,
          pointBackgroundColor: "rgba(60,60,60,0.6)",
          pointBorderColor: "rgba(25,25,25,0.7)",
          pointBorderWidth: 1.2,
        },
      ],
    },
    options: {
      ...baseOptions({ left: 0, top: cfg.padTop, right: cfg.padRight, bottom: 0 }),
      scales: {
        x: {
          type: "linear",
          min: cfg.xmin,
          max: cfg.xmax,
          afterBuildTicks: (s: any) => {
            s.ticks = cfg.xt.map((v: number) => ({ value: v }));
          },
          afterFit: (s: any) => {
            s.height = cfg.axisH;
          },
          ticks: {
            callback: (v: any, i: number) => xl[i],
            autoSkip: false,
            maxRotation: 0,
            minRotation: 0,
            padding: 2,
            font: { family: FONT, size: 32 },
            color: "#000",
          },
          grid: {
            color: (c: any) => (xl[c.index] ? "#e1e1e1" : "#eeeeee"),
            lineWidth: (c: any) => (xl[c.index] ? 2.2 : 1.4),
            drawTicks: true,
            tickLength: 7,
            tickWidth: 2,
            tickColor: (c: any) => (xl[c.index] ? "#333" : "rgba(0,0,0,0)"),
          },
          border: { display: false },
        },
        y: {
          type: "linear",
          min: cfg.ymin,
          max: cfg.ymax,
          afterBuildTicks: (s: any) => {
            s.ticks = cfg.yt.map((v: number) => ({ value: v }));
          },
          afterFit: (s: any) => {
            s.width = cfg.yW;
          },
          ticks: { display: false },
          grid: { color: "#e4e4e4", lineWidth: 2, drawTicks: false },
          border: { display: false },
        },
      },
    },
    plugins: [framePlugin("#555", 2, "#222", 3.5)],
  };
}

// ---------- dot plot (panel c) ----------
function swarm(values: number[], cx: number, pxX: number, pxY: number, minD: number) {
  const sorted = [...values].sort((a, b) => b - a);
  const placed: { x: number; y: number }[] = [];
  const out: { x: number; y: number }[] = [];
  for (const v of sorted) {
    const py = v * pxY;
    let best = 0;
    for (let k = 0; k < 600; k++) {
      const off = (k % 2 === 0 ? 1 : -1) * Math.ceil(k / 2) * 0.5;
      let ok = true;
      for (const p of placed) {
        const dy = p.y - py;
        if (Math.abs(dy) >= minD) continue;
        const dx = p.x - off;
        if (dx * dx + dy * dy < minD * minD) {
          ok = false;
          break;
        }
      }
      if (ok) {
        best = off;
        break;
      }
    }
    placed.push({ x: best, y: py });
    out.push({ x: cx + best / pxX, y: v });
  }
  return out;
}

function buildDots() {
  const PX_X = 239.0;
  const PX_Y = 22.75;
  const MIN_D = 6.2;
  const SUB = 0.215;
  const normals = [NOTCH1_NORMAL, NOTCH2_NORMAL, NOTCH3_NORMAL, NOTCH4_NORMAL];
  const tumors = [NOTCH1_TUMOR, NOTCH2_TUMOR, NOTCH3_TUMOR, NOTCH4_TUMOR];
  const ds: any[] = [];
  GENES.forEach((_, i) => {
    [[i - SUB, MEAN_NORMAL[i]], [i + SUB, MEAN_TUMOR[i]]].forEach(([cx, m]) =>
      ds.push({
        type: "line",
        data: [{ x: cx - 0.143, y: m }, { x: cx + 0.143, y: m }],
        borderColor: "#000",
        borderWidth: 8,
        borderCapStyle: "butt",
        pointRadius: 0,
      })
    );
  });
  GENES.forEach((_, i) => {
    const b = BRACKET_Y[i];
    ds.push({
      type: "line",
      data: [
        { x: i - 0.228, y: b - 0.6 },
        { x: i - 0.228, y: b },
        { x: i + 0.228, y: b },
        { x: i + 0.228, y: b - 0.6 },
      ],
      borderColor: "#000",
      borderWidth: 3,
      pointRadius: 0,
      clip: false,
      borderJoinStyle: "miter",
    });
  });
  DIVIDERS.forEach((d) =>
    ds.push({
      type: "line",
      data: [{ x: d, y: 0 }, { x: d, y: 16 }],
      borderColor: "#4650ee",
      borderWidth: 3,
      borderDash: [10, 7],
      pointRadius: 0,
    })
  );
  GENES.forEach((_, i) =>
    ds.push({
      type: "scatter",
      data: swarm(normals[i], i - SUB, PX_X, PX_Y, MIN_D),
      pointRadius: 4.5,
      pointBorderWidth: 2.6,
      pointBackgroundColor: "#d3d3d3",
      pointBorderColor: "#5f5f5f",
    })
  );
  GENES.forEach((_, i) =>
    ds.push({
      type: "scatter",
      data: swarm(tumors[i], i + SUB, PX_X, PX_Y, MIN_D),
      pointRadius: 4.5,
      pointBorderWidth: 2.6,
      pointBackgroundColor: "#fde3e3",
      pointBorderColor: "#f47f7f",
    })
  );
  const labels = {
    id: "pLabels",
    afterDatasetsDraw(chart: any) {
      const { ctx, scales } = chart;
      ctx.save();
      ctx.font = `34px ${FONT}`;
      ctx.fillStyle = "#000";
      ctx.textAlign = "center";
      ctx.textBaseline = "middle";
      P_LABELS.forEach((t, i) =>
        ctx.fillText(t, scales.x.getPixelForValue(i), scales.y.getPixelForValue(P_LABEL_Y[i]))
      );
      ctx.restore();
    },
  };
  return {
    type: "scatter",
    data: { datasets: ds },
    options: {
      ...baseOptions({ left: 0, top: 149, right: 9.5, bottom: 0 }),
      scales: {
        x: {
          type: "linear",
          min: -0.4954,
          max: 3.5083,
          afterBuildTicks: (s: any) => {
            s.ticks = GENES.map((_, i) => ({ value: i }));
          },
          afterFit: (s: any) => {
            s.height = 97;
          },
          ticks: {
            callback: (v: any) => GENES[Math.round(v)],
            autoSkip: false,
            maxRotation: 0,
            padding: 10,
            font: { family: FONT, size: 34 },
            color: "#000",
          },
          grid: { display: true, drawOnChartArea: false, drawTicks: false },
          border: { display: true, color: "#000", width: 3 },
        },
        y: {
          type: "linear",
          min: 0,
          max: 16,
          afterBuildTicks: (s: any) => {
            s.ticks = DOT_Y_TICKS.map((v) => ({ value: v }));
          },
          afterFit: (s: any) => {
            s.width = 143.6;
          },
          ticks: { padding: 3, font: { family: FONT, size: 32 }, color: "#000" },
          grid: {
            drawOnChartArea: false,
            drawTicks: true,
            tickLength: 15,
            tickColor: "#000",
            tickWidth: 3,
          },
          border: { display: true, color: "#000", width: 3 },
        },
      },
    },
    plugins: [labels],
  };
}

// ---------- KM (panel d) ----------
function buildKM() {
  const line = (t: number[], s: number[], color: string) => ({
    type: "line",
    data: t.map((x, i) => ({ x, y: s[i] })),
    stepped: true,
    borderColor: color,
    borderWidth: 3,
    pointRadius: 0,
    fill: false,
  });
  const cens = (t: number[], s: number[], color: string) => ({
    type: "scatter",
    data: t.map((x, i) => ({ x, y: s[i] })),
    pointStyle: "cross",
    pointRadius: 6,
    pointBorderColor: color,
    pointBorderWidth: 2,
    pointBackgroundColor: color,
  });
  return {
    type: "scatter",
    data: {
      datasets: [
        line(HIGH_T, HIGH_S, KM_ORANGE),
        cens(HIGH_CENS_T, HIGH_CENS_S, KM_ORANGE),
        line(LOW_T, LOW_S, KM_BLUE),
        cens(LOW_CENS_T, LOW_CENS_S, KM_BLUE),
      ],
    },
    options: {
      ...baseOptions({ left: 0, top: 49, right: 116.2, bottom: 0 }),
      scales: {
        x: {
          type: "linear",
          min: -0.476,
          max: 12.83,
          afterBuildTicks: (s: any) => {
            s.ticks = KM_X_TICKS.map((v) => ({ value: v }));
          },
          afterFit: (s: any) => {
            s.height = 89.6;
          },
          ticks: { padding: 0, font: { family: FONT, size: 33 }, color: "#000", maxRotation: 0 },
          grid: { drawOnChartArea: false, drawTicks: true, tickLength: 14, tickColor: "#000", tickWidth: 2 },
          border: { display: false },
        },
        y: {
          type: "linear",
          min: -0.0416,
          max: 1.0397,
          afterBuildTicks: (s: any) => {
            s.ticks = KM_Y_TICKS.map((v) => ({ value: v }));
          },
          afterFit: (s: any) => {
            s.width = 175.5;
          },
          ticks: {
            callback: (v: any) => Number(v).toFixed(1),
            padding: 4,
            font: { family: FONT, size: 33 },
            color: "#000",
          },
          grid: { drawOnChartArea: false, drawTicks: true, tickLength: 14, tickColor: "#000", tickWidth: 2 },
          border: { display: false },
        },
      },
    },
    plugins: [framePlugin("#222", 2)],
  };
}

// ---------- text helper ----------
function T({ x, y, s, c = "#000", a = "c", r = false, b = false, children }: any) {
  const tx = a === "c" ? "-50%" : a === "r" ? "-100%" : "0";
  return (
    <div
      style={{
        position: "absolute",
        left: x,
        top: y,
        transform: `translate(${tx},-50%)${r ? " rotate(-90deg)" : ""}`,
        fontSize: s,
        color: c,
        fontWeight: b ? "bold" : "normal",
        lineHeight: 1,
        whiteSpace: "nowrap",
        fontFamily: FONT,
      }}
    >
      {children}
    </div>
  );
}

const BLUE_TXT = "#1010ff";
const RED_TXT = "#ff0000";

export default function App() {
  const posStr = `rgb(${COLOR_POS.join(",")})`;
  const negStr = `rgb(${COLOR_NEG.join(",")})`;
  return (
    <div
      style={{
        position: "fixed",
        left: 0,
        top: 0,
        width: 1944,
        height: 1830,
        background: "#fff",
        overflow: "hidden",
        fontFamily: FONT,
      }}
    >
      <ChartCanvas left={0} top={0} width={1100} height={1120} build={buildHeatmap} />
      <ChartCanvas
        left={1230}
        top={160}
        width={370}
        height={450}
        build={() =>
          buildScatter({
            pts: N2_M1_PTS, fx: N2_M1_FIT_X, fit: N2_M1_FIT, lo: N2_M1_LO, hi: N2_M1_HI,
            xmin: -0.0102, xmax: 0.211, ymin: 0.64, ymax: 6.15, xt: M1_TICKS, xl: M1_LABELS,
            yt: [1, 2, 3, 4, 5, 6], yW: 19, padTop: 13, padRight: 19, axisH: 57,
          })
        }
      />
      <ChartCanvas
        left={1585}
        top={155}
        width={359}
        height={455}
        build={() =>
          buildScatter({
            pts: N2_M2_PTS, fx: N2_M2_FIT_X, fit: N2_M2_FIT, lo: N2_M2_LO, hi: N2_M2_HI,
            xmin: -0.024, xmax: 0.515, ymin: 0.61, ymax: 6.585, xt: M2_TICKS, xl: M2_LABELS,
            yt: [1, 2, 3, 4, 5, 6], yW: 15, padTop: 14, padRight: 22, axisH: 57,
          })
        }
      />
      <ChartCanvas
        left={1230}
        top={610}
        width={370}
        height={500}
        build={() =>
          buildScatter({
            pts: N3_M1_PTS, fx: N3_M1_FIT_X, fit: N3_M1_FIT, lo: N3_M1_LO, hi: N3_M1_HI,
            xmin: -0.0095, xmax: 0.2088, ymin: 0.38, ymax: 7.7, xt: M1_TICKS, xl: M1_LABELS,
            yt: [1, 2, 3, 4, 5, 6, 7], yW: 20, padTop: 16, padRight: 23, axisH: 103,
          })
        }
      />
      <ChartCanvas
        left={1582}
        top={610}
        width={362}
        height={500}
        build={() =>
          buildScatter({
            pts: N3_M2_PTS, fx: N3_M2_FIT_X, fit: N3_M2_FIT, lo: N3_M2_LO, hi: N3_M2_HI,
            xmin: -0.023, xmax: 0.515, ymin: 0.34, ymax: 8.245, xt: M2_TICKS, xl: M2_LABELS,
            yt: [1, 2, 3, 4, 5, 6, 7, 8], yW: 17, padTop: 13, padRight: 24, axisH: 102,
          })
        }
      />
      <ChartCanvas left={0} top={1220} width={1110} height={610} build={buildDots} />
      <ChartCanvas left={1180} top={1250} width={764} height={580} build={buildKM} />

      {/* panel letters */}
      <T x={12} y={20} s={40} b>a</T>
      <T x={1127} y={20} s={40} b>b</T>
      <T x={14} y={1240} s={40} b>c</T>
      <T x={1171} y={1240} s={40} b>d</T>

      {/* heatmap legend */}
      <T x={333} y={1020} s={30}>R</T>
      <div
        style={{
          position: "absolute",
          left: 213,
          top: 1042,
          width: 239,
          height: 20,
          background: `linear-gradient(to right, ${negStr}, #ffffff 50%, ${posStr})`,
        }}
      />
      <T x={215} y={1092} s={31}>-1</T>
      <T x={329} y={1092} s={31}>0</T>
      <T x={449} y={1092} s={31}>1</T>
      <div style={{ position: "absolute", left: 620, top: 1042, width: 40, height: 42, background: "#000" }} />
      <T x={671} y={1063} s={34} a="l">P&lt;0.5</T>
      <svg style={{ position: "absolute", left: 821, top: 1042 }} width={40} height={43}>
        <rect x={1.5} y={1.5} width={37} height={40} fill="none" stroke="#000" strokeWidth={3} />
        <line x1={1.5} y1={1.5} x2={38.5} y2={41.5} stroke="#000" strokeWidth={2} />
        <line x1={38.5} y1={1.5} x2={1.5} y2={41.5} stroke="#000" strokeWidth={2} />
      </svg>
      <T x={870} y={1063} s={34} a="l">P&gt;0.5</T>

      {/* panel b texts */}
      <T x={1553} y={83} s={36}>CIBERSORT-ABS</T>
      <T x={1430} y={140} s={40}>Macrophage_M1</T>
      <T x={1769} y={134} s={40}>Macrophage_M2</T>
      <T x={1187} y={351} s={35} r>
        <span style={{ color: BLUE_TXT }}>Notch2</span> expression level
      </T>
      <T x={1228} y={366} s={35} r>Log2 TPM</T>
      <T x={1193} y={803} s={35} r>
        <span style={{ color: BLUE_TXT }}>Notch3</span> expression level
      </T>
      <T x={1233} y={821} s={35} r>Log2 TPM</T>
      <T x={1422} y={1073} s={36}>Infiltration level</T>
      <T x={1787} y={1072} s={36}>Infiltration level</T>

      <T x={1573} y={187} s={19} a="r" c={RED_TXT}>Rho = 0.407</T>
      <T x={1573} y={207} s={19} a="r" c={RED_TXT}>p = 2.14e-12</T>
      <T x={1919} y={185} s={19} a="r" c={RED_TXT}>Rho = 0.613</T>
      <T x={1919} y={203} s={19} a="r" c={RED_TXT}>p = 9.31e-30</T>
      <T x={1573} y={643} s={19} a="r" c={RED_TXT}>Rho = 0.442</T>
      <T x={1573} y={662} s={19} a="r" c={RED_TXT}>p = 1.43e-14</T>
      <T x={1917} y={639} s={19} a="r" c={RED_TXT}>Rho = 0.621</T>
      <T x={1917} y={657} s={19} a="r" c={RED_TXT}>p = 1.16e-30</T>

      <T x={1413} y={493} s={28} a="l" c={RED_TXT}>R=0.407</T>
      <T x={1415} y={524} s={28} a="l" c={RED_TXT}>p=2.14e-12</T>
      <T x={1765} y={493} s={28} a="l" c={RED_TXT}>R=0.613</T>
      <T x={1765} y={525} s={28} a="l" c={RED_TXT}>p=9.31e-30</T>
      <T x={1410} y={947} s={28} a="l" c={RED_TXT}>R=0.442</T>
      <T x={1412} y={978} s={28} a="l" c={RED_TXT}>p=1.43e-14</T>
      <T x={1762} y={947} s={28} a="l" c={RED_TXT}>R=0.621</T>
      <T x={1762} y={977} s={28} a="l" c={RED_TXT}>p=1.16e-30</T>

      {/* panel c legend */}
      <div
        style={{
          position: "absolute", left: 143, top: 1233, width: 21, height: 21, boxSizing: "border-box",
          borderRadius: "50%", border: "5px solid #5f5f5f", background: "#d3d3d3",
        }}
      />
      <T x={178} y={1243} s={36} a="l">Normal</T>
      <div
        style={{
          position: "absolute", left: 143, top: 1276, width: 21, height: 21, boxSizing: "border-box",
          borderRadius: "50%", border: "5px solid #f47f7f", background: "#fde3e3",
        }}
      />
      <T x={180} y={1288} s={36} a="l">Tumor</T>

      {/* panel d texts */}
      <T x={1605} y={1272} s={36}>COAD_Notch3</T>
      <T x={1261} y={1526} s={35} r>Percentage</T>
      <T x={1587} y={1814} s={35}>Years</T>
      <div style={{ position: "absolute", left: 1682, top: 1330, width: 53, height: 5, background: KM_BLUE }} />
      <T x={1745} y={1332} s={34} a="l">Low</T>
      <div style={{ position: "absolute", left: 1682, top: 1365, width: 53, height: 5, background: KM_ORANGE }} />
      <T x={1745} y={1368} s={34} a="l">High</T>
      <T x={1380} y={1705} s={28} a="l">Log-rank p=0.04</T>
    </div>
  );
}
